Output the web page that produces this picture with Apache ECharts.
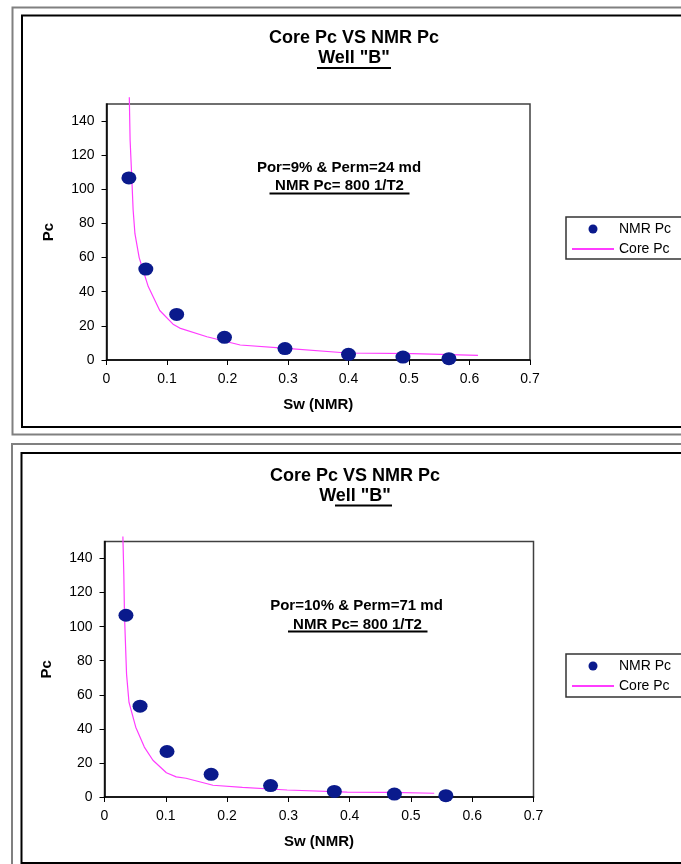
<!DOCTYPE html>
<html>
<head>
<meta charset="utf-8">
<script src="https://cdn.jsdelivr.net/npm/echarts@6/dist/echarts.min.js"></script>
<style>
  html, body { margin: 0; padding: 0; background: #fff; }
  #chart { width: 681px; height: 864px; }
</style>
</head>
<body>
<div id="chart"></div>
<script>
// Axis ticks shared by both panels
const swTicks = [0, 0.1, 0.2, 0.3, 0.4, 0.5, 0.6, 0.7];
const pcTicks = [0, 20, 40, 60, 80, 100, 120, 140];

// NMR-derived capillary pressure (Pc = 800 / T2)
const nmrPc = [106.7, 53.3, 26.7, 13.3, 6.7, 3.3, 1.7, 0.8];

// Sample 1: Por=9%, Perm=24 md
const nmrSwA = [0.037, 0.065, 0.116, 0.195, 0.295, 0.400, 0.490, 0.566];
const coreSwA = [0.0377, 0.039, 0.042, 0.044, 0.047, 0.054, 0.069, 0.088, 0.110, 0.121, 0.166, 0.221, 0.292, 0.398, 0.506, 0.614];
const corePcA = [154, 129, 105, 88, 74, 60, 43, 29, 21, 18.7, 13.6, 8.8, 7.0, 4.1, 3.7, 2.7];

// Sample 2: Por=10%, Perm=71 md
const nmrSwB = [0.035, 0.058, 0.102, 0.174, 0.271, 0.375, 0.473, 0.557];
const coreSwB = [0.030, 0.0315, 0.0326, 0.035, 0.036, 0.040, 0.051, 0.065, 0.079, 0.101, 0.117, 0.133, 0.177, 0.225, 0.298, 0.396, 0.467, 0.538];
const corePcB = [153, 131, 107, 82, 72, 55.5, 41, 29.3, 21.6, 14.2, 11.8, 11, 6.9, 5.7, 4.1, 2.9, 2.7, 2.2];

const FONT = '"Liberation Sans", Arial, sans-serif';
const NAVY = '#0a1a8c';
const MAGENTA = '#ff3cff';

const pairs = (xs, ys) => xs.map((x, i) => [x, ys[i]]);

function xAxisFor(gridIndex) {
  return {
    type: 'value', gridIndex, min: swTicks[0], max: swTicks[swTicks.length - 1], interval: 0.1,
    name: 'Sw (NMR)', nameLocation: 'middle', nameGap: 37,
    nameTextStyle: { fontFamily: FONT, fontSize: 15, fontWeight: 'bold', color: '#000' },
    axisLine: { onZero: false, lineStyle: { color: '#000', width: 1.5 } },
    axisTick: { length: 5, lineStyle: { color: '#000', width: 1 } },
    axisLabel: { margin: 12, fontFamily: FONT, fontSize: 14, color: '#000', formatter: v => String(+v.toFixed(1)) },
    splitLine: { show: false }
  };
}

function yAxisFor(gridIndex) {
  return {
    type: 'value', gridIndex, min: 0, max: 150, interval: 20,
    name: 'Pc', nameLocation: 'middle', nameGap: 50,
    nameTextStyle: { fontFamily: FONT, fontSize: 15, fontWeight: 'bold', color: '#000' },
    axisLine: { onZero: false, lineStyle: { color: '#000', width: 1.5 } },
    axisTick: { length: 5, customValues: pcTicks, lineStyle: { color: '#000', width: 1 } },
    axisLabel: { margin: 12, customValues: pcTicks, fontFamily: FONT, fontSize: 14, color: '#000' },
    splitLine: { show: false }
  };
}

function legendFor(top) {
  return {
    left: 566, top, orient: 'vertical', selectedMode: false,
    itemWidth: 42, itemHeight: 9, itemGap: 6, padding: [5, 5, 5, 5],
    textStyle: { fontFamily: FONT, fontSize: 14, color: '#000' },
    data: [
      { name: 'NMR Pc', icon: 'circle' },
      { name: 'Core Pc', itemStyle: { opacity: 0 } }
    ]
  };
}

function seriesFor(idx, nmrSw, coreSw, corePc) {
  return [
    {
      name: 'Core Pc', type: 'line', xAxisIndex: idx, yAxisIndex: idx,
      data: pairs(coreSw, corePc), symbol: 'none', showSymbol: false, clip: false, z: 2,
      lineStyle: { color: MAGENTA, width: 1.2 }, itemStyle: { color: MAGENTA }
    },
    {
      name: 'NMR Pc', type: 'scatter', xAxisIndex: idx, yAxisIndex: idx,
      data: pairs(nmrSw, nmrPc), symbolSize: [15, 13], z: 3,
      itemStyle: { color: NAVY, opacity: 1 }
    }
  ];
}

function text(str, x, y, size) {
  return {
    type: 'text', z: 10,
    style: { text: str, x, y, align: 'center', verticalAlign: 'middle', font: 'bold ' + size + 'px ' + FONT, fill: '#000' }
  };
}
function rule(x1, x2, y) {
  return { type: 'line', z: 10, shape: { x1, y1: y, x2, y2: y }, style: { stroke: '#000', lineWidth: 2 } };
}
function box(x, y, w, h, color, lw) {
  return { type: 'rect', z: -1, shape: { x, y, width: w, height: h }, style: { fill: 'none', stroke: color, lineWidth: lw } };
}

const chart = echarts.init(document.getElementById('chart'), null, { renderer: 'canvas' });

chart.setOption({
  animation: false,
  backgroundColor: '#fff',
  grid: [
    { left: 106.5, top: 104, width: 423.5, height: 256, show: true, borderColor: '#404040', borderWidth: 1.5 },
    { left: 104.5, top: 541.5, width: 429, height: 255.5, show: true, borderColor: '#404040', borderWidth: 1.5 }
  ],
  xAxis: [xAxisFor(0), xAxisFor(1)],
  yAxis: [yAxisFor(0), yAxisFor(1)],
  legend: [legendFor(217), legendFor(654)],
  series: [
    ...seriesFor(0, nmrSwA, coreSwA, corePcA),
    ...seriesFor(1, nmrSwB, coreSwB, corePcB)
  ],
  graphic: [
    // panel frames
    box(12.5, 7.5, 800, 427, '#808080', 2),
    box(22, 15.5, 800, 411.5, '#000', 2),
    box(12, 444, 800, 500, '#808080', 2),
    box(21.5, 453, 800, 410, '#000', 2),
    // legend frames
    box(566, 217, 200, 42, '#333', 1.5),
    box(566, 654, 200, 43, '#333', 1.5),
    // panel 1 titles and note
    text('Core Pc VS NMR Pc', 354, 38, 18),
    text('Well "B"', 354, 58.5, 18),
    rule(317, 391, 68),
    text('Por=9% & Perm=24 md', 339, 168, 15),
    text('NMR Pc= 800 1/T2', 339.5, 186, 15),
    rule(269.5, 409.5, 193.5),
    // panel 2 titles and note
    text('Core Pc VS NMR Pc', 355, 476, 18),
    text('Well "B"', 355, 496.5, 18),
    rule(335, 392, 505.5),
    text('Por=10% & Perm=71 md', 356.5, 606, 15),
    text('NMR Pc= 800 1/T2', 357.5, 624.5, 15),
    rule(288, 427.5, 631.5)
  ]
});
</script>
</body>
</html>
